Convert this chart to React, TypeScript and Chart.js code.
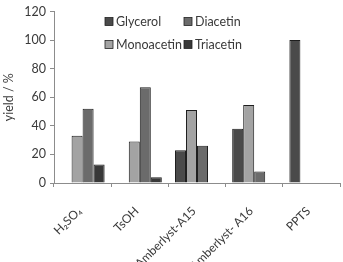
import { useEffect, useRef } from "react";
import { Chart, registerables } from "chart.js";

Chart.register(...registerables);

// Catalyst screening: product distribution per catalyst
const categories = ["H₂SO₄", "TsOH", "Amberlyst-A15", "Amberlyst- A16", "PPTS"];
const glycerol = [0, 0, 23, 38, 100];
const monoacetin = [33, 29, 51, 54.5, 0];
const diacetin = [52, 67, 26, 8, 0];
const triacetin = [13, 4, 0, 0, 0];
const yTicks = [0, 20, 40, 60, 80, 100, 120];
const legendOrder = ["Glycerol", "Diacetin", "Monoacetin", "Triacetin"];

const FONT = "Lato, 'Open Sans', sans-serif";
const TEXT = "#3a3a3a";
const AXIS = "#8c8c8c";

// Two-column legend drawn inside the plot area
const insideLegend = {
  id: "insideLegend",
  afterDraw(chart: any) {
    const { ctx, chartArea } = chart;
    const items = legendOrder.map((name) => chart.data.datasets.find((d: any) => d.label === name));
    ctx.save();
    ctx.font = `12.5px ${FONT}`;
    ctx.textBaseline = "middle";
    ctx.textAlign = "left";
    items.forEach((ds: any, i: number) => {
      const col = i % 2;
      const row = Math.floor(i / 2);
      const x = chartArea.left + 51 + col * 79;
      const y = chartArea.top + 10 + row * 23;
      ctx.fillStyle = ds.backgroundColor;
      ctx.fillRect(x, y - 4, 8, 8);
      ctx.strokeStyle = "#222";
      ctx.lineWidth = 0.8;
      ctx.strokeRect(x, y - 4, 8, 8);
      ctx.fillStyle = TEXT;
      ctx.fillText(ds.label, x + 11, y + 0.5);
    });
    ctx.restore();
  },
};

export default function App() {
  const canvasRef = useRef<HTMLCanvasElement | null>(null);

  useEffect(() => {
    document.body.style.margin = "0";
    const canvas = canvasRef.current;
    if (!canvas) return;
    const bar = (label: string, data: number[], color: string) => ({
      label,
      data,
      backgroundColor: color,
      borderColor: "#1e1e1e",
      borderWidth: 1,
      borderSkipped: "bottom" as const,
      categoryPercentage: 0.77,
      barPercentage: 1.0,
    });
    const chart = new Chart(canvas, {
      type: "bar",
      data: {
        labels: categories,
        datasets: [
          bar("Glycerol", glycerol, "#4a4a4a"),
          bar("Monoacetin", monoacetin, "#a3a3a3"),
          bar("Diacetin", diacetin, "#6b6b6b"),
          bar("Triacetin", triacetin, "#383838"),
        ],
      },
      options: {
        animation: false,
        responsive: true,
        maintainAspectRatio: false,
        layout: { padding: { top: 6, right: 3, left: 0, bottom: 0 } },
        plugins: {
          legend: { display: false },
          tooltip: { enabled: false },
        },
        scales: {
          x: {
            grid: {
              drawOnChartArea: false,
              drawTicks: true,
              tickLength: 4,
              color: AXIS,
              offset: true,
            },
            border: { color: AXIS, width: 1 },
            ticks: {
              color: TEXT,
              font: { family: FONT, size: 12 },
              minRotation: 45,
              maxRotation: 45,
              padding: 17,
              labelOffset: -3,
            },
            afterFit(scale: any) {
              scale.height = 79;
            },
          },
          y: {
            min: 0,
            max: 120,
            afterBuildTicks(scale: any) {
              scale.ticks = yTicks.map((v) => ({ value: v }));
            },
            grid: {
              drawOnChartArea: false,
              drawTicks: true,
              tickLength: 4,
              color: AXIS,
            },
            border: { color: AXIS, width: 1 },
            ticks: {
              color: TEXT,
              font: { family: FONT, size: 12.5 },
              padding: 4,
            },
            title: {
              display: true,
              text: "yield / %",
              color: TEXT,
              font: { family: FONT, size: 12.5 },
              padding: { top: 1, bottom: 0 },
            },
            afterFit(scale: any) {
              scale.width = 54;
            },
          },
        },
      },
      plugins: [insideLegend],
    });
    return () => chart.destroy();
  }, []);

  return (
    <div style={{ position: "absolute", left: 0, top: 0, width: 343, height: 262, background: "#fff" }}>
      <canvas ref={canvasRef} />
    </div>
  );
}
